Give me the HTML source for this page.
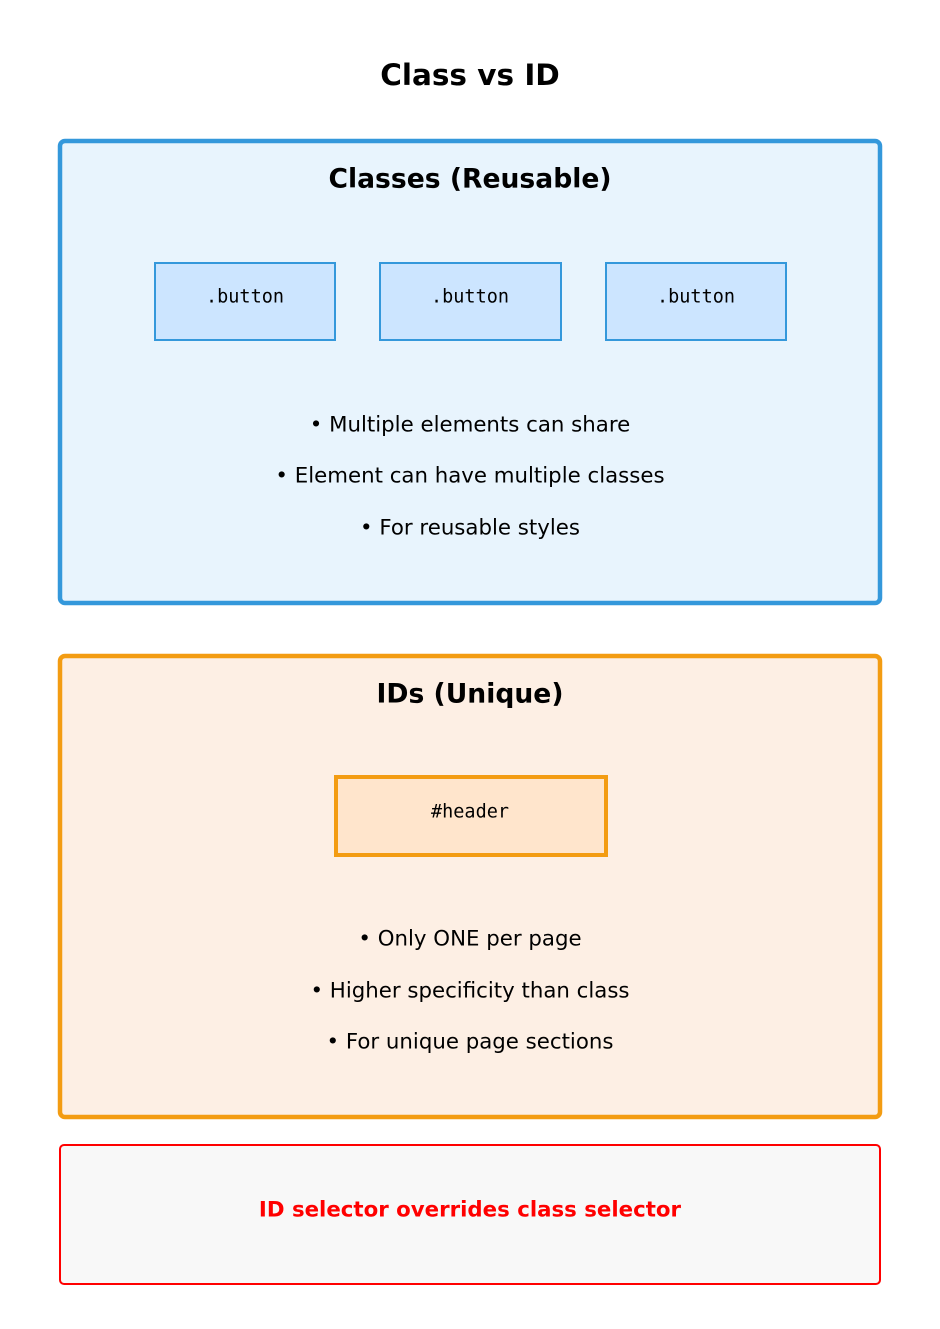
<!DOCTYPE html>
<html><head><meta charset="utf-8"><style>html,body{margin:0;padding:0;background:#fff}</style></head>
<body>
<svg width="940" height="1324" viewBox="0 0 940 1324" xmlns="http://www.w3.org/2000/svg" font-family="DejaVu Sans, Liberation Sans, sans-serif">
<rect width="940" height="1324" fill="#fff"/>
<text x="470" y="75" text-anchor="middle" dominant-baseline="central" font-size="29.5" font-weight="bold">Class vs ID</text>

<rect x="60" y="141" width="820" height="462" rx="5" fill="#e8f4fd" stroke="#3498db" stroke-width="4.5"/>
<text x="470" y="179" text-anchor="middle" dominant-baseline="central" font-size="26.6" font-weight="bold">Classes (Reusable)</text>
<rect x="155" y="263" width="180" height="77" fill="#cce5ff" stroke="#3498db" stroke-width="2"/>
<rect x="380" y="263" width="181" height="77" fill="#cce5ff" stroke="#3498db" stroke-width="2"/>
<rect x="606" y="263" width="180" height="77" fill="#cce5ff" stroke="#3498db" stroke-width="2"/>
<g font-family="DejaVu Sans Mono, Liberation Mono, monospace" font-size="18.5" text-anchor="middle" dominant-baseline="central">
<text x="245" y="297">.button</text><text x="470" y="297">.button</text><text x="696" y="297">.button</text>
</g>
<g font-size="21.3" text-anchor="middle" dominant-baseline="central">
<text x="470" y="425">• Multiple elements can share</text>
<text x="470" y="476">• Element can have multiple classes</text>
<text x="470" y="528">• For reusable styles</text>
</g>

<rect x="60" y="656" width="820" height="461" rx="5" fill="#fdefe4" stroke="#f39c12" stroke-width="4.5"/>
<text x="470" y="694" text-anchor="middle" dominant-baseline="central" font-size="26.6" font-weight="bold">IDs (Unique)</text>
<rect x="336" y="777" width="270" height="78" fill="#ffe5cc" stroke="#f39c12" stroke-width="4"/>
<text x="470" y="812" text-anchor="middle" dominant-baseline="central" font-family="DejaVu Sans Mono, Liberation Mono, monospace" font-size="18.5">#header</text>
<g font-size="21.3" text-anchor="middle" dominant-baseline="central">
<text x="470" y="939">• Only ONE per page</text>
<text x="470" y="991">• Higher specificity than class</text>
<text x="470" y="1042">• For unique page sections</text>
</g>

<rect x="60" y="1145" width="820" height="139" rx="4" fill="#f8f8f8" stroke="#ff0000" stroke-width="2"/>
<text x="470" y="1210" text-anchor="middle" dominant-baseline="central" font-size="21.3" font-weight="bold" fill="#ff0000">ID selector overrides class selector</text>
</svg>
</body></html>
